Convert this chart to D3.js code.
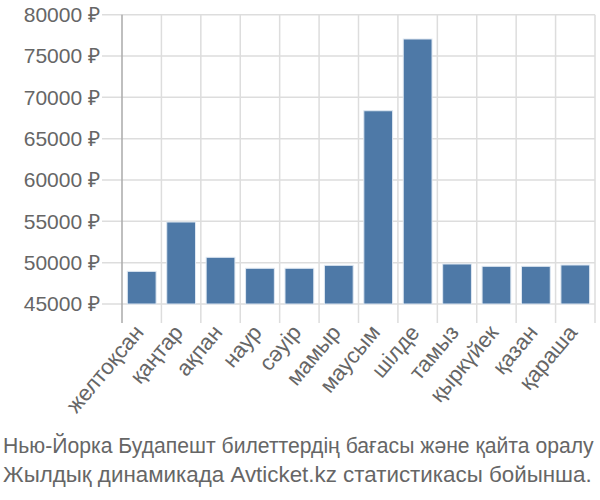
<!DOCTYPE html>
<html><head><meta charset="utf-8">
<script src="https://cdn.jsdelivr.net/npm/d3@7"></script>
<style>body{margin:0;background:#fff}svg{display:block}</style>
</head><body>
<script>
const categories = ["желтоқсан","қаңтар","ақпан","наур","сәуір","мамыр","маусым","шілде","тамыз","қыркүйек","қазан","қараша"];
const values = [48950, 54920, 50650, 49320, 49320, 49680, 68380, 77060, 49840, 49560, 49560, 49720];
const yTicks = [45000, 50000, 55000, 60000, 65000, 70000, 75000, 80000];
const captionLines = ["Нью-Йорка Будапешт билеттердің бағасы және қайта оралу", "Жылдық динамикада Avticket.kz статистикасы бойынша."];
const captionWidths = [591, 589];

const W = 600, H = 500;
const svg = d3.select("body").append("svg").attr("width", W).attr("height", H);
const x = d3.scaleBand().domain(categories).range([122, 595]).paddingInner(0.27).paddingOuter(0.135);
const xg = d3.scaleBand().domain(categories).range([122, 595]);
const y = d3.scaleLinear().domain([45000, 80000]).range([304, 14.7]);
const font = "'Liberation Sans', Arial, sans-serif";

// horizontal gridlines
svg.append("g").selectAll("line").data(yTicks).join("line")
  .attr("x1", 102).attr("x2", 595).attr("y1", d => y(d)).attr("y2", d => y(d))
  .attr("stroke", "#dddddd").attr("stroke-width", 1.5);
// vertical gridlines
svg.append("g").selectAll("line").data(categories).join("line")
  .attr("x1", d => xg(d) + xg.bandwidth()).attr("x2", d => xg(d) + xg.bandwidth())
  .attr("y1", y(80000)).attr("y2", 323)
  .attr("stroke", "#dddddd").attr("stroke-width", 1.5);
// y axis line
svg.append("line").attr("x1", 122).attr("x2", 122).attr("y1", y(80000)).attr("y2", 323)
  .attr("stroke", "#aaaaaa").attr("stroke-width", 1.5);

// bars
svg.append("g").selectAll("rect").data(values).join("rect")
  .attr("x", (d, i) => x(categories[i]))
  .attr("width", x.bandwidth())
  .attr("y", d => y(d))
  .attr("height", d => y(45000) - y(d))
  .attr("fill", "#4e79a7").attr("stroke", "#dfe8f2").attr("stroke-width", 1);

// y labels
svg.append("g").selectAll("text").data(yTicks).join("text")
  .attr("x", 100).attr("y", d => y(d)).attr("dy", "0.35em")
  .attr("text-anchor", "end").attr("font-family", font).attr("font-size", 21)
  .attr("fill", "#666").text(d => d + " ₽");

// x labels
svg.append("g").selectAll("text").data(categories).join("text")
  .attr("transform", d => `translate(${x(d) + x.bandwidth() / 2 + 3},333) rotate(-50)`)
  .attr("text-anchor", "end").attr("font-family", font).attr("font-size", 22)
  .attr("fill", "#666").text(d => d);

// caption (horizontally condensed to fit)
svg.append("g").selectAll("text").data(captionLines).join("text")
  .attr("font-family", font).attr("font-size", 22)
  .attr("fill", "#666").text(d => d)
  .each(function (d, i) {
    const len = this.getComputedTextLength();
    const s = captionWidths[i] / len;
    d3.select(this).attr("transform", `translate(3,${453 + i * 29}) scale(${s},1)`);
  });
</script>
</body></html>
